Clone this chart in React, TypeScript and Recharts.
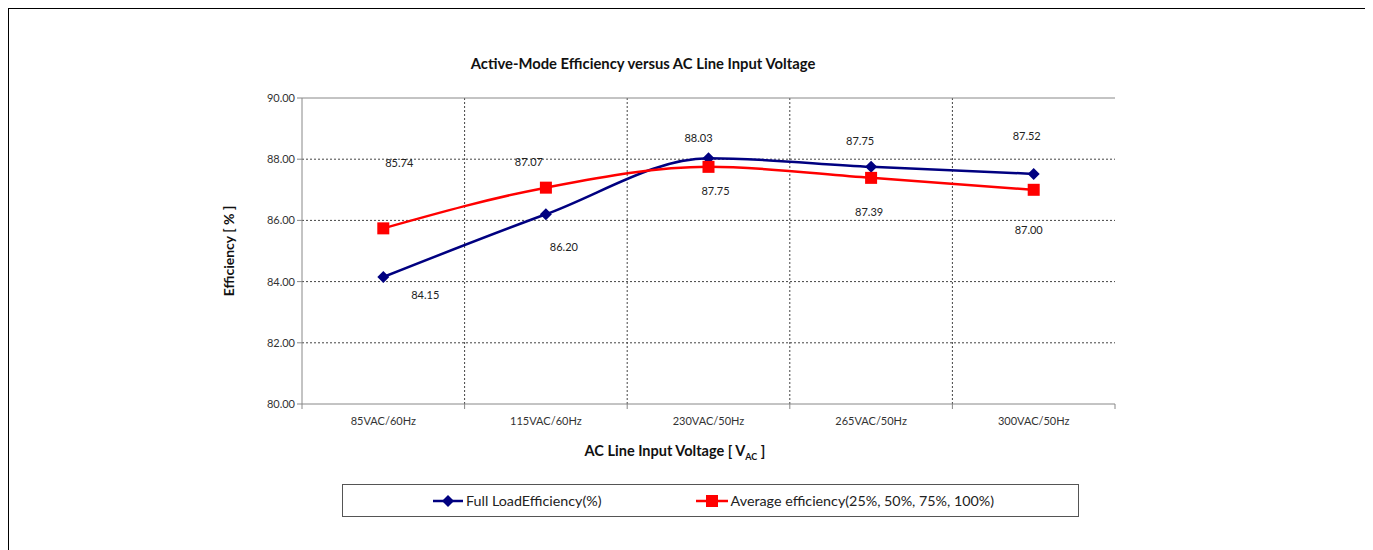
import React from "react";
import {
  LineChart,
  Line,
  XAxis,
  YAxis,
  CartesianGrid,
  ReferenceLine,
  LabelList,
} from "recharts";

const categories = ["85VAC/60Hz", "115VAC/60Hz", "230VAC/50Hz", "265VAC/50Hz", "300VAC/50Hz"];
const fullLoad = [84.15, 86.2, 88.03, 87.75, 87.52];
const average = [85.74, 87.07, 87.75, 87.39, 87.0];
const yTicks = [80, 82, 84, 86, 88, 90];

// label nudges (dx, dy) copied from the original sheet layout
const fullLoadLabelShift = [
  [42, 19],
  [18, 34],
  [-10, -19],
  [-11, -25],
  [-7, -37],
];
const averageLabelShift = [
  [16, -64],
  [-17, -24],
  [7, 25],
  [-2, 35],
  [-5, 41],
];

const data = categories.map((c, i) => ({
  pos: i + 0.5,
  name: c,
  full: fullLoad[i],
  avg: average[i],
}));

const xTicks = [0, 0.5, 1, 1.5, 2, 2.5, 3, 3.5, 4, 4.5, 5];
const FONT = "Lato, 'Open Sans', sans-serif";

function XTick(props: any) {
  const { x, y, payload } = props;
  const v = payload.value as number;
  if (Number.isInteger(v)) {
    return <line x1={x} x2={x} y1={y - 8} y2={y - 3} stroke="#888" strokeWidth={1} />;
  }
  return (
    <text x={x} y={y + 13} textAnchor="middle" fontSize={11} fill="#333" fontFamily={FONT}>
      {categories[Math.floor(v)]}
    </text>
  );
}

function Diamond(props: any) {
  const { cx, cy } = props;
  if (cx == null || cy == null) return null;
  const r = 6;
  return (
    <polygon
      points={`${cx},${cy - r} ${cx + r},${cy} ${cx},${cy + r} ${cx - r},${cy}`}
      fill="#000080"
    />
  );
}

function Square(props: any) {
  const { cx, cy } = props;
  if (cx == null || cy == null) return null;
  return <rect x={cx - 6} y={cy - 6} width={12} height={12} fill="#ff0000" />;
}

function makeLabel(shift: number[][]) {
  return (props: any) => {
    const { x, y, value, index } = props;
    const [dx, dy] = shift[index] || [0, 0];
    return (
      <text
        x={x + dx}
        y={y + dy}
        textAnchor="middle"
        dominantBaseline="middle"
        fontSize={11}
        fill="#222"
        fontFamily={FONT}
      >
        {Number(value).toFixed(2)}
      </text>
    );
  };
}

export default function App() {
  return (
    <div
      style={{
        position: "relative",
        width: 1356,
        height: 560,
        border: "2px solid #000",
        marginLeft: -1,
        marginTop: -1,
        background: "#fff",
        fontFamily: FONT,
      }}
    >
      <div
        style={{
          position: "absolute",
          left: 634,
          top: 45,
          transform: "translateX(-50%)",
          fontSize: 14.8,
          fontWeight: 700,
          color: "#111",
          whiteSpace: "nowrap",
        }}
      >
        Active-Mode Efficiency versus AC Line Input Voltage
      </div>
      <div
        style={{
          position: "absolute",
          left: 219,
          top: 242,
          transform: "translate(-50%, -50%) rotate(-90deg)",
          fontSize: 14,
          fontWeight: 700,
          color: "#111",
          whiteSpace: "nowrap",
        }}
      >
        Efficiency [ % ]
      </div>
      <div
        style={{
          position: "absolute",
          left: 666,
          top: 443,
          transform: "translate(-50%, -50%)",
          fontSize: 14.5,
          fontWeight: 700,
          color: "#111",
          whiteSpace: "nowrap",
        }}
      >
        AC Line Input Voltage [ V<sub style={{ fontSize: 9 }}>AC</sub> ]
      </div>
      <LineChart
        width={1356}
        height={545}
        data={data}
        margin={{ top: 89, right: 250, left: 233, bottom: 120 }}
      >
        <CartesianGrid
          stroke="#444"
          strokeDasharray="2 2"
          horizontalValues={[82, 84, 86, 88]}
          verticalValues={[1, 2, 3, 4]}
        />
        <XAxis
          dataKey="pos"
          type="number"
          domain={[0, 5]}
          ticks={xTicks}
          interval={0}
          tickLine={false}
          stroke="#888"
          height={30}
          tick={<XTick />}
        />
        <YAxis
          domain={[80, 90]}
          ticks={yTicks}
          interval={0}
          width={60}
          stroke="#888"
          tickSize={5}
          tickFormatter={(v) => Number(v).toFixed(2)}
          tick={{ fontSize: 11, fill: "#333", fontFamily: FONT }}
        />
        <YAxis
          yAxisId="frame"
          orientation="right"
          domain={[80, 90]}
          width={0}
          tick={false}
          tickLine={false}
          stroke="#888"
        />
        <ReferenceLine y={90} stroke="#888" />
        <Line
          type="monotone"
          dataKey="full"
          stroke="#000080"
          strokeWidth={2.5}
          dot={<Diamond />}
          activeDot={false}
          isAnimationActive={false}
        >
          <LabelList dataKey="full" content={makeLabel(fullLoadLabelShift)} />
        </Line>
        <Line
          type="monotone"
          dataKey="avg"
          stroke="#ff0000"
          strokeWidth={2.5}
          dot={<Square />}
          activeDot={false}
          isAnimationActive={false}
        >
          <LabelList dataKey="avg" content={makeLabel(averageLabelShift)} />
        </Line>
      </LineChart>
      <div
        style={{
          position: "absolute",
          left: 333,
          top: 475,
          width: 737,
          height: 33,
          border: "1px solid #555",
          boxSizing: "border-box",
          display: "flex",
          alignItems: "center",
          fontSize: 14.3,
          color: "#222",
        }}
      >
        <svg width={30} height={14} style={{ marginLeft: 90 }}>
          <line x1={0} x2={30} y1={7} y2={7} stroke="#000080" strokeWidth={2.5} />
          <polygon points="15,1 21,7 15,13 9,7" fill="#000080" />
        </svg>
        <span style={{ marginLeft: 3 }}>Full LoadEfficiency(%)</span>
        <svg width={32} height={14} style={{ marginLeft: 94 }}>
          <line x1={0} x2={32} y1={7} y2={7} stroke="#ff0000" strokeWidth={2.5} />
          <rect x={10} y={1} width={12} height={12} fill="#ff0000" />
        </svg>
        <span style={{ marginLeft: 3 }}>Average efficiency(25%, 50%, 75%, 100%)</span>
      </div>
    </div>
  );
}
